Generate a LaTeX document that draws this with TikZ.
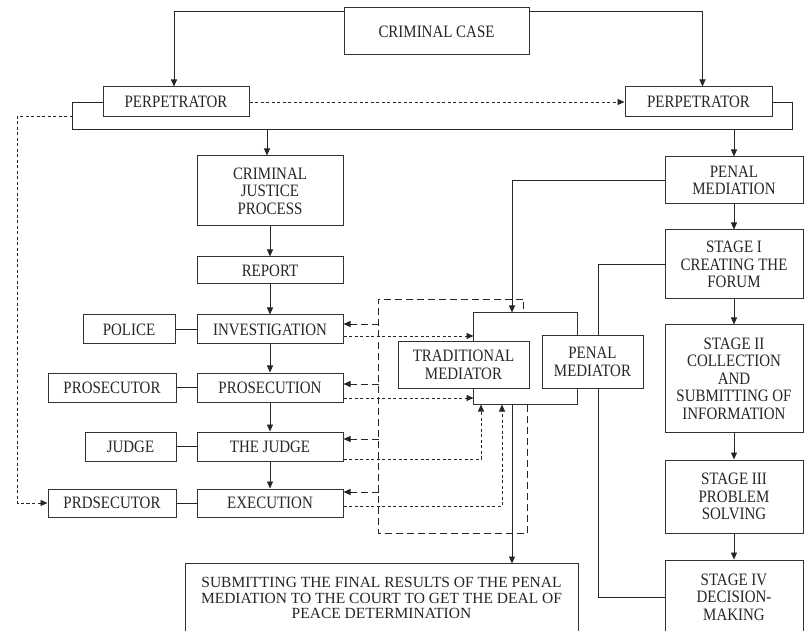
\documentclass[tikz,border=0pt]{standalone}
\usepackage{fontspec}
\setmainfont{Liberation Serif}[FakeStretch=0.86]
\newfontfamily\widefont{Liberation Serif}
\usepackage{tikz}
\usetikzlibrary{arrows.meta}

\tikzset{
  box/.style={draw=black!80, line width=1pt, fill=white, inner sep=0pt, align=center,
    text=black!85, font=\fontsize{17.4}{17.5}\selectfont},
  link/.style={draw=black!85, line width=0.9pt},
  dots/.style={link, dash pattern=on 3pt off 2.5pt},
  dashes/.style={link, dash pattern=on 7pt off 4pt},
}

\begin{document}
\begin{tikzpicture}[x=1pt,y=-1pt,>={Triangle[length=7pt,width=6pt]}]
	 \useasboundingbox (0,0) rectangle (804,631);
	 % top
	 \node[box, minimum width=185pt, minimum height=47pt] (case) at (436.5,31.5) {CRIMINAL CASE};
	 \node[box, minimum width=146pt, minimum height=30pt] (perpL) at (176,102) {PERPETRATOR};
	 \node[box, minimum width=147pt, minimum height=30pt] (perpR) at (698.5,102) {PERPETRATOR};
	 \coordinate (brk) at (0,129);
	 % criminal justice process
	 \node[box, minimum width=146pt, minimum height=70pt] (cjp) at (270,191) {CRIMINAL\\JUSTICE\\PROCESS};
	 \node[box, minimum width=146pt, minimum height=27pt] (report) at (270,270.5) {REPORT};
	 \node[box, minimum width=146pt, minimum height=29pt] (invest) at (270,329.5) {INVESTIGATION};
	 \node[box, minimum width=146pt, minimum height=29pt] (prosec) at (270,387.5) {PROSECUTION};
	 \node[box, minimum width=146pt, minimum height=29pt] (thejudge) at (270,446.5) {THE JUDGE};
	 \node[box, minimum width=146pt, minimum height=28pt] (exec) at (270,503) {EXECUTION};
	 \node[box, minimum width=92pt, minimum height=29pt] (police) at (129,329.5) {POLICE};
	 \node[box, minimum width=128pt, minimum height=29pt] (prsc) at (112,387.5) {PROSECUTOR};
	 \node[box, minimum width=91pt, minimum height=29pt] (judge) at (130.5,446.5) {JUDGE};
	 \node[box, minimum width=128pt, minimum height=28pt] (prsc2) at (112,503) {PRDSECUTOR};
	 % penal mediation
	 \node[box, minimum width=138pt, minimum height=47pt] (pmed) at (734,180.5) {PENAL\\MEDIATION};
	 \node[box, minimum width=138pt, minimum height=69pt] (s1) at (734,264.5) {STAGE I\\CREATING THE\\FORUM};
	 \node[box, minimum width=138pt, minimum height=107pt] (s2) at (734,378.5) {STAGE II\\COLLECTION\\AND\\SUBMITTING OF\\INFORMATION};
	 \node[box, minimum width=138pt, minimum height=73pt] (s3) at (734,496.5) {STAGE III\\PROBLEM\\SOLVING};
	 \node[box, minimum width=138pt, minimum height=74pt] (s4) at (734,597) {STAGE IV\\DECISION-\\MAKING};
	 \node[box, minimum width=393pt, minimum height=70pt, font=\widefont\fontsize{15.5}{15.3}\selectfont] (submit) at (381.5,598)
	   {SUBMITTING THE FINAL RESULTS OF THE PENAL\\MEDIATION TO THE COURT TO GET THE DEAL OF\\PEACE DETERMINATION};
	 % mediators
	 \node[draw=black!80, line width=1pt, minimum width=104pt, minimum height=91pt] (med) at (525,358.5) {};
	 \node[box, minimum width=131pt, minimum height=46pt] (trad) at (463.5,365) {TRADITIONAL\\MEDIATOR};
	 \draw[link] (s1.west) -- ++(-66,0) |- (s4.west);
	 \node[box, minimum width=101pt, minimum height=52pt] (penal) at (592.5,362) {PENAL\\MEDIATOR};
	 % connectors at the top
	 \draw[link,->] ([yshift=-4pt]case.north west) -| ([xshift=-2pt]perpL.north);
	 \draw[link,->] ([yshift=-4pt]case.north east) -| ([xshift=4pt]perpR.north);
	 \draw[dots,->] (perpL) -- (perpR);
	 \draw[link] (perpL.west) -- ++(-30,0) coordinate (bl) -- (bl |- brk) -| ([xshift=20pt]perpR.east) -- (perpR.east);
	 \draw[link,->] ([xshift=-3pt]cjp.north |- brk) -- ([xshift=-3pt]cjp.north);
	 \draw[link,->] (pmed.north |- brk) -- (pmed.north);
	 \draw[dots,->] ([yshift=-14pt]bl) -- ++(-55,0) |- (prsc2.west);
	 % left column
	 \draw[link,->] (cjp) -- (report);
	 \draw[link,->] (report) -- (invest);
	 \draw[link,->] (invest) -- (prosec);
	 \draw[link,->] (prosec) -- (thejudge);
	 \draw[link,->] (thejudge) -- (exec);
	 \draw[link] (police) -- (invest);
	 \draw[link] (prsc) -- (prosec);
	 \draw[link] (judge) -- (thejudge);
	 \draw[link] (prsc2) -- (exec);
	 % right column
	 \draw[link,->] (pmed) -- (s1);
	 \draw[link,->] (s1) -- (s2);
	 \draw[link,->] (s2) -- (s3);
	 \draw[link,->] (s3) -- (s4);
	 \draw[link,->] (pmed.west) -| ([xshift=-13pt]med.north);
	 \draw[link,->] ([xshift=-13pt]med.south) -- ++(0,159);
	 % dashed loop and its arrows
	 \coordinate (loopL) at (378,533);
	 \coordinate (loopT) at (378,299);
	 \draw[dashes] ([xshift=2pt]med.south) |- (loopL) -- (loopT) -| ([xshift=-2pt]med.north);
	 \draw[dashes,<-] ([yshift=5.5pt]invest.east) -- ++(35,0);
	 \draw[dashes,<-] ([yshift=3.5pt]prosec.east) -- ++(35,0);
	 \draw[dashes,<-] ([yshift=7.5pt]thejudge.east) -- ++(35,0);
	 \draw[dashes,<-] ([yshift=11pt]exec.east) -- ++(35,0);
	 % dotted arrows to the mediators
	 \draw[dots,->] ([yshift=-6.5pt]invest.east) -- ++(130,0);
	 \draw[dots,->] ([yshift=-10.5pt]prosec.east) -- ++(130,0);
	 \draw[dots,->] ([yshift=-12.5pt]thejudge.east) -| ([xshift=-44pt]med.south);
	 \draw[dots,->] ([yshift=-3pt]exec.east) -| ([xshift=-23pt]med.south);
\end{tikzpicture}
\end{document}
